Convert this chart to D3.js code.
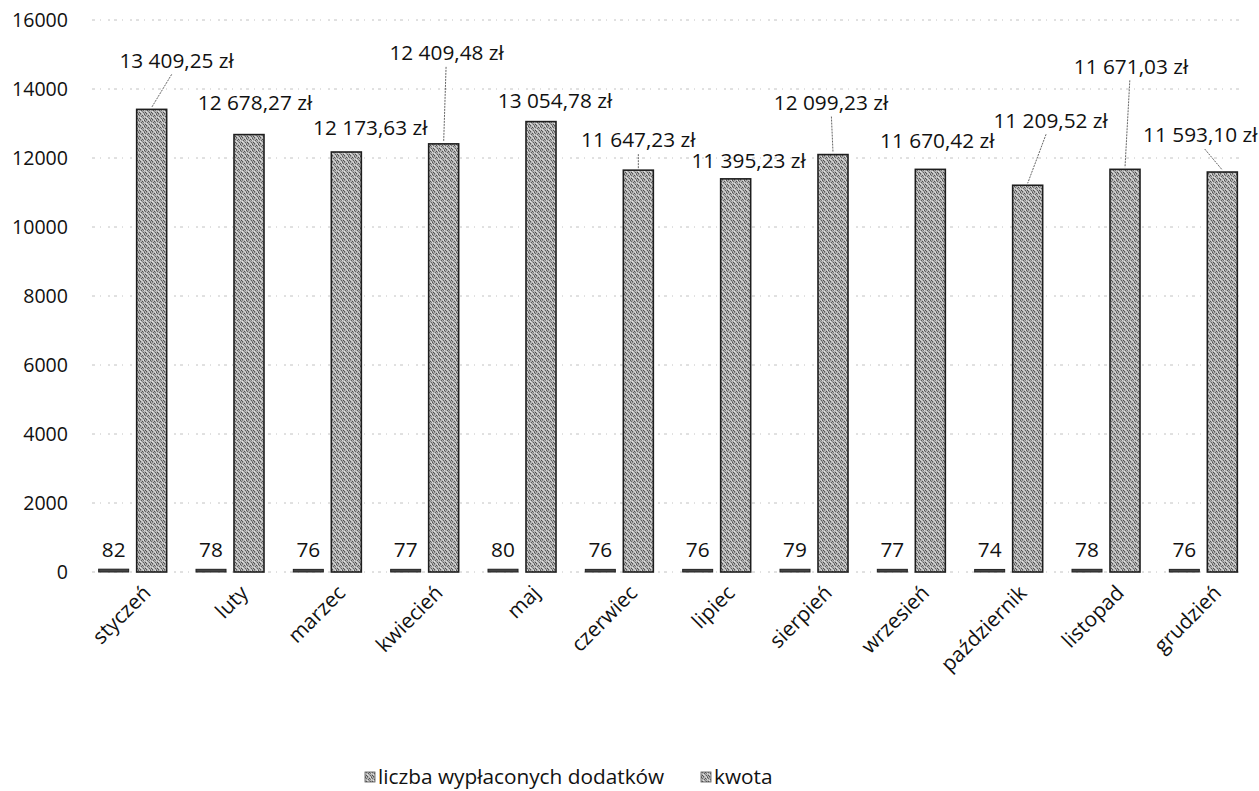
<!DOCTYPE html>
<html>
<head>
<meta charset="utf-8">
<script src="https://cdn.jsdelivr.net/npm/d3@7"></script>
<style>
  body { margin: 0; background: #fff; }
  svg text { font-family: "Open Sans", sans-serif; fill: #111; }
</style>
</head>
<body>
<div id="chart"></div>
<script>
// chart data
var months = ["styczeń", "luty", "marzec", "kwiecień", "maj", "czerwiec", "lipiec", "sierpień", "wrzesień", "październik", "listopad", "grudzień"];
var liczba = [82, 78, 76, 77, 80, 76, 76, 79, 77, 74, 78, 76];
var kwota = [13409.25, 12678.27, 12173.63, 12409.48, 13054.78, 11647.23, 11395.23, 12099.23, 11670.42, 11209.52, 11671.03, 11593.10];
var yTicks = [0, 2000, 4000, 6000, 8000, 10000, 12000, 14000, 16000];
var seriesNames = ["liczba wypłaconych dodatków", "kwota"];

// hand placed label offsets (dx, dy from bar top centre), like the original sheet
var labelDx = [25, 6, 24, 3, 14, 0, 13, -2, 7, 23, 6, -22];
var labelDy = [-49, -32, -24, -91, -21, -30, -18, -52, -29, -65, -103, -37];
var leader = [true, false, false, true, false, true, false, true, false, true, true, true];

var W = 1259, H = 791;
var tickFont = "19.6px";
var labelFont = "20.8px";

var svg = d3.select("#chart").append("svg")
  .attr("width", W)
  .attr("height", H);

// dithered grey fill, like the scanned bars
var defs = svg.append("defs");
var pat = defs.append("pattern")
  .attr("id", "grain")
  .attr("patternUnits", "userSpaceOnUse")
  .attr("width", 6)
  .attr("height", 6);
pat.append("rect").attr("width", 6).attr("height", 6).attr("fill", "#b4b4b4");
var dots = [[0, 0, "#555"], [2, 0, "#888"], [5, 0, "#e2e2e2"], [1, 1, "#6a6a6a"], [4, 1, "#505050"],
            [0, 2, "#dcdcdc"], [3, 2, "#5e5e5e"], [5, 2, "#7a7a7a"], [2, 3, "#e6e6e6"], [1, 4, "#4c4c4c"],
            [4, 3, "#8a8a8a"], [3, 4, "#d8d8d8"], [5, 4, "#606060"], [0, 5, "#7c7c7c"], [2, 5, "#555"], [4, 5, "#cfcfcf"]];
dots.forEach(function(p) {
  pat.append("rect").attr("x", p[0]).attr("y", p[1]).attr("width", 1).attr("height", 1).attr("fill", p[2]);
});

var x = d3.scaleBand()
  .domain(months)
  .range([84, 1252]);

var y = d3.scaleLinear()
  .domain([0, 16000])
  .range([572, 20]);

var barW = 30, barOff = 19;

// gridlines
svg.append("g")
  .selectAll("line")
  .data(yTicks)
  .enter()
  .append("line")
  .attr("x1", 92)
  .attr("x2", 1240)
  .attr("y1", function(d) { return y(d); })
  .attr("y2", function(d) { return y(d); })
  .attr("stroke", "#c2c2c2")
  .attr("stroke-width", 1)
  .attr("stroke-dasharray", "3,5,1,7,2,4");

// y axis labels
var yAxis = d3.axisLeft(y).tickValues(yTicks).tickSize(0).tickPadding(0)
  .tickFormat(function(d) { return d; });
var gy = svg.append("g")
  .attr("transform", "translate(68,0)")
  .call(yAxis);
gy.select(".domain").remove();
gy.selectAll("text")
  .style("font-size", tickFont)
  .style("font-family", "'Open Sans', sans-serif")
  .attr("fill", "#111");

// x axis labels, rotated
var xAxis = d3.axisBottom(x).tickSize(0).tickPadding(0);
var gx = svg.append("g")
  .attr("transform", "translate(0,584)")
  .call(xAxis);
gx.select(".domain").remove();
gx.selectAll("text")
  .style("font-size", labelFont)
  .style("font-family", "'Open Sans', sans-serif")
  .attr("fill", "#111")
  .attr("text-anchor", "end")
  .attr("dy", "0.7em")
  .attr("transform", "translate(9,0) rotate(-45)");

// count bars
svg.append("g")
  .selectAll("rect")
  .data(liczba)
  .enter()
  .append("rect")
  .attr("x", function(d, i) { return x(months[i]) + x.bandwidth() / 2 - barOff - barW / 2; })
  .attr("y", function(d) { return y(d); })
  .attr("width", barW)
  .attr("height", function(d) { return y(0) - y(d); })
  .attr("fill", "#444")
  .attr("stroke", "#222")
  .attr("stroke-width", 1);

// amount bars
svg.append("g")
  .selectAll("rect")
  .data(kwota)
  .enter()
  .append("rect")
  .attr("x", function(d, i) { return x(months[i]) + x.bandwidth() / 2 + barOff - barW / 2; })
  .attr("y", function(d) { return y(d); })
  .attr("width", barW)
  .attr("height", function(d) { return y(0) - y(d); })
  .attr("fill", "url(#grain)")
  .attr("stroke", "#1e1e1e")
  .attr("stroke-width", 1.6);

// count labels
svg.append("g")
  .selectAll("text")
  .data(liczba)
  .enter()
  .append("text")
  .attr("x", function(d, i) { return x(months[i]) + x.bandwidth() / 2 - barOff; })
  .attr("y", function(d) { return y(d) - 12; })
  .attr("text-anchor", "middle")
  .style("font-size", labelFont)
  .text(function(d) { return d; });

// amount labels
function fmtZl(v) {
  var parts = v.toFixed(2).split(".");
  var intp = parts[0].replace(/\B(?=(\d{3})+(?!\d))/g, " ");
  return intp + "," + parts[1] + " zł";
}

var cx = function(i) { return x(months[i]) + x.bandwidth() / 2 + barOff; };

// leader lines
svg.append("g")
  .selectAll("line")
  .data(d3.range(kwota.length).filter(function(i) { return leader[i]; }))
  .enter()
  .append("line")
  .attr("x1", function(i) { return cx(i) + labelDx[i] * 0.8; })
  .attr("y1", function(i) { return y(kwota[i]) + labelDy[i] + 14; })
  .attr("x2", function(i) { return cx(i); })
  .attr("y2", function(i) { return y(kwota[i]) - 2; })
  .attr("stroke", "#666")
  .attr("stroke-width", 1)
  .attr("stroke-dasharray", "2,1");

svg.append("g")
  .selectAll("text")
  .data(kwota)
  .enter()
  .append("text")
  .attr("x", function(d, i) { return cx(i) + labelDx[i]; })
  .attr("y", function(d, i) { return y(d) + labelDy[i]; })
  .attr("dy", "0.35em")
  .attr("text-anchor", "middle")
  .style("font-size", labelFont)
  .text(function(d) { return fmtZl(d); });

// legend
var legend = svg.append("g").attr("transform", "translate(365,777)");
var lx = [0, 336];
seriesNames.forEach(function(name, i) {
  legend.append("rect")
    .attr("x", lx[i])
    .attr("y", -5)
    .attr("width", 10)
    .attr("height", 10)
    .attr("fill", "url(#grain)")
    .attr("stroke", "#555")
    .attr("stroke-width", 0.8);
  legend.append("text")
    .attr("x", lx[i] + 13)
    .attr("y", 0)
    .attr("dy", "0.35em")
    .style("font-size", labelFont)
    .text(name);
});
</script>
</body>
</html>
